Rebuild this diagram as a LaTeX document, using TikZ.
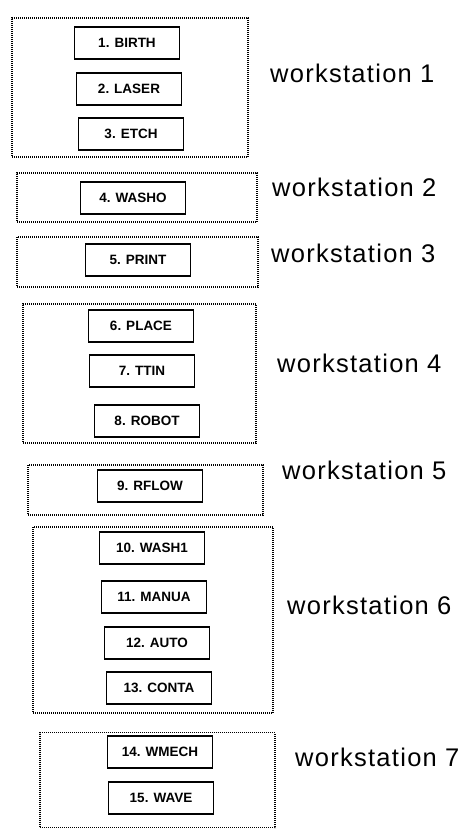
\documentclass[tikz,border=0pt]{standalone}
\usepackage{fontspec}
\setmainfont{Liberation Sans}
\newfontfamily\wsfont[LetterSpace=5.0]{Liberation Sans}
\begin{document}
\begin{tikzpicture}[x=1pt,y=-1pt,
  grp/.style={draw, line width=1.1pt, dash pattern=on 1pt off 1pt, rectangle, inner sep=0pt},
  stage/.style={draw, line width=1.7pt, rectangle, minimum width=105pt, minimum height=32pt, inner sep=0pt, font=\fontsize{13.5}{15}\selectfont\bfseries},
  wslabel/.style={anchor=west, inner sep=0pt, font=\wsfont\fontsize{25.5}{30}\selectfont}]
\useasboundingbox (0,0) rectangle (468,829);
% workstation groups
\node[grp, minimum width=236pt, minimum height=139pt] (g1) at (130,87.5) {};
\node[grp, minimum width=240pt, minimum height=49pt] (g2) at (137,197.5) {};
\node[grp, minimum width=241pt, minimum height=50pt] (g3) at (137.5,262) {};
\node[grp, minimum width=233pt, minimum height=139pt] (g4) at (139.5,373.5) {};
\node[grp, minimum width=235pt, minimum height=50pt] (g5) at (145.5,490) {};
\node[grp, minimum width=240pt, minimum height=186pt] (g6) at (153,620) {};
\node[grp, minimum width=235pt, minimum height=95pt] (g7) at (157.5,780) {};
% stages
\node[stage] (s1) at (127,43) {1. BIRTH};
\node[stage] (s2) at (129,89) {2. LASER};
\node[stage] (s3) at (131,134) {3. ETCH};
\node[stage] (s4) at (133,198) {4. WASHO};
\node[stage] (s5) at (138,260) {5. PRINT};
\node[stage] (s6) at (141,326) {6. PLACE};
\node[stage] (s7) at (142,371) {7. TTIN};
\node[stage] (s8) at (147,421) {8. ROBOT};
\node[stage] (s9) at (150,486) {9. RFLOW};
\node[stage] (s10) at (152,548) {10. WASH1};
\node[stage] (s11) at (154,597) {11. MANUA};
\node[stage] (s12) at (157,643) {12. AUTO};
\node[stage] (s13) at (159,688) {13. CONTA};
\node[stage] (s14) at (160,752) {14. WMECH};
\node[stage] (s15) at (161,798) {15. WAVE};
% labels
\node[wslabel] (l1) at (270,73) {workstation 1};
\node[wslabel] (l2) at (272,187) {workstation 2};
\node[wslabel] (l3) at (271,253) {workstation 3};
\node[wslabel] (l4) at (277,363) {workstation 4};
\node[wslabel] (l5) at (282,470) {workstation 5};
\node[wslabel] (l6) at (287,605) {workstation 6};
\node[wslabel] (l7) at (295,757) {workstation 7};
\end{tikzpicture}
\end{document}
